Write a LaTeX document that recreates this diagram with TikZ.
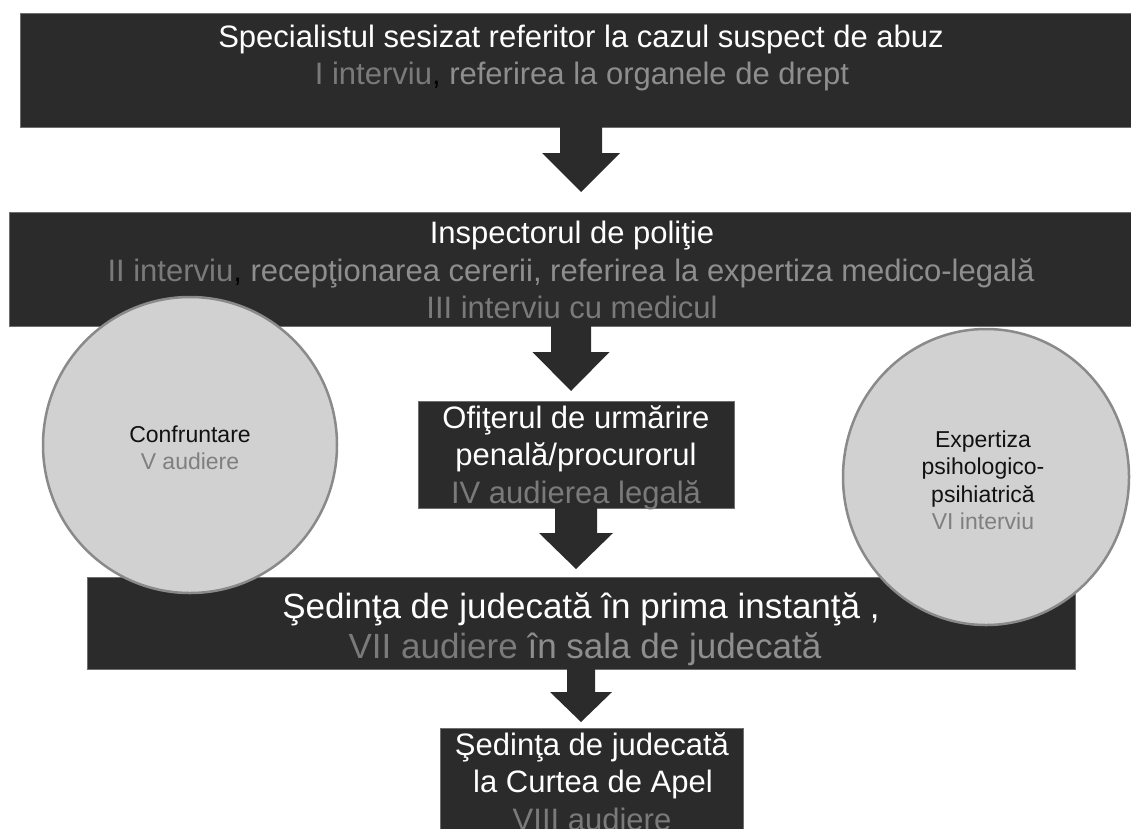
\documentclass[tikz,border=0pt]{standalone}
\usepackage{fontspec}
\setmainfont{Liberation Sans}
\usetikzlibrary{calc,shapes.geometric}
\definecolor{boxfill}{HTML}{2B2B2B}
\definecolor{boxedge}{HTML}{6E6E6E}
\definecolor{gA}{HTML}{7A7A7A}
\definecolor{gB}{HTML}{8E8E8E}
\definecolor{circfill}{HTML}{D1D1D1}
\definecolor{circedge}{HTML}{8A8A8A}
\definecolor{ctxt}{HTML}{111111}
\definecolor{cgray}{HTML}{7F7F7F}
\newcommand\blockarrow[7]{% from, to, xc, gap, shaftw, headw, headlen
  \fill[arrowfill] let \p1=(#1.south), \p2=(#2.north) in
    ({#3pt-#5pt/2},\y1) -- ({#3pt+#5pt/2},\y1) -- ({#3pt+#5pt/2},{\y2+#4pt+#7pt})
    -- ({#3pt+#6pt/2},{\y2+#4pt+#7pt}) -- (#3pt,{\y2+#4pt})
    -- ({#3pt-#6pt/2},{\y2+#4pt+#7pt}) -- ({#3pt-#5pt/2},{\y2+#4pt+#7pt}) -- cycle;}
\tikzset{
  dbox/.style={rectangle, fill=boxfill, draw=boxedge, line width=0.8pt, inner sep=0pt, outer sep=0pt},
  arrowfill/.style={fill=boxfill},
  circ/.style={ellipse, fill=circfill, draw=circedge, line width=2.5pt, inner sep=0pt},
  mtxt/.style={anchor=base, text=white, inner sep=0pt, font=\fontsize{31}{37}\selectfont},
  btxt/.style={anchor=base, text=white, inner sep=0pt, font=\fontsize{35}{40}\selectfont},
  ctx/.style={anchor=base, text=ctxt, inner sep=0pt, font=\fontsize{23}{27}\selectfont},
}
\begin{document}
\begin{tikzpicture}[x=1pt,y=-1pt]
\useasboundingbox (0,0) rectangle (1131,828);
\clip (0,0) rectangle (1131,828);
\fill[white] (0,0) rectangle (1131,828);
% boxes
\node[dbox, minimum width=1120, minimum height=114] (b1) at (580,70) {};
\node[dbox, minimum width=1126, minimum height=114] (b2) at (572,269) {};
\node[dbox, minimum width=316, minimum height=107] (b3) at (576,454.5) {};
\node[dbox, minimum width=988, minimum height=92] (b4) at (581,623) {};
\node[dbox, minimum width=303, minimum height=122] (b5) at (591.5,789) {};
% texts
\node[mtxt] (t1a) at (581,47) {Specialistul sesizat referitor la cazul suspect de abuz};
\node[mtxt] (t1b) at (582,84) {\textcolor{gA}{I interviu}\textcolor{black}{,} \textcolor{gB}{referirea la organele de drept}};
\node[mtxt] (t2a) at (572,243) {Inspectorul de poliţie};
\node[mtxt] (t2b) at (571,281) {\textcolor{gA}{II interviu}\textcolor{black}{,} \textcolor{gB}{recepţionarea cererii, referirea la expertiza medico-legală}};
\node[mtxt] (t2c) at (572,318) {\textcolor{gA}{III interviu cu medicul}};
\node[mtxt] (t3a) at (576,428) {Ofiţerul de urmărire};
\node[mtxt] (t3b) at (576,465.5) {penală/procurorul};
\node[mtxt] (t3c) at (576,503) {\textcolor{gA}{IV audierea legală}};
\node[btxt] (t4a) at (581,618) {Şedinţa de judecată în prima instanţă ,};
\node[btxt] (t4b) at (585,658) {\textcolor{gA}{VII audiere} \textcolor{gB}{în sala de judecată}};
\node[mtxt] (t5a) at (592,755) {Şedinţa de judecată};
\node[mtxt] (t5b) at (593,792.5) {la Curtea de Apel};
\node[mtxt] (t5c) at (592,830) {\textcolor{gA}{VIII audiere}};
% arrows
\blockarrow{b1}{b2}{581}{20}{42}{78}{39}
\blockarrow{b2}{b3}{571}{10}{40}{77}{39}
\blockarrow{b3}{b4}{576}{8}{42}{74}{36}
\blockarrow{b4}{b5}{581}{6}{28}{62}{30}
% circles
\node[circ, minimum width=294, minimum height=296] (c1) at (190,445) {};
\node[circ, minimum width=286, minimum height=296] (c2) at (986,477) {};
\node[ctx] (c1a) at (190,442) {Confruntare};
\node[ctx] (c1b) at (190,469.5) {\textcolor{cgray}{V audiere}};
\node[ctx] (c2a) at (983,447) {Expertiza};
\node[ctx] (c2b) at (983,474.5) {psihologico-};
\node[ctx] (c2c) at (983,502) {psihiatrică};
\node[ctx] (c2d) at (983,529.5) {\textcolor{cgray}{VI interviu}};
\end{tikzpicture}
\end{document}
